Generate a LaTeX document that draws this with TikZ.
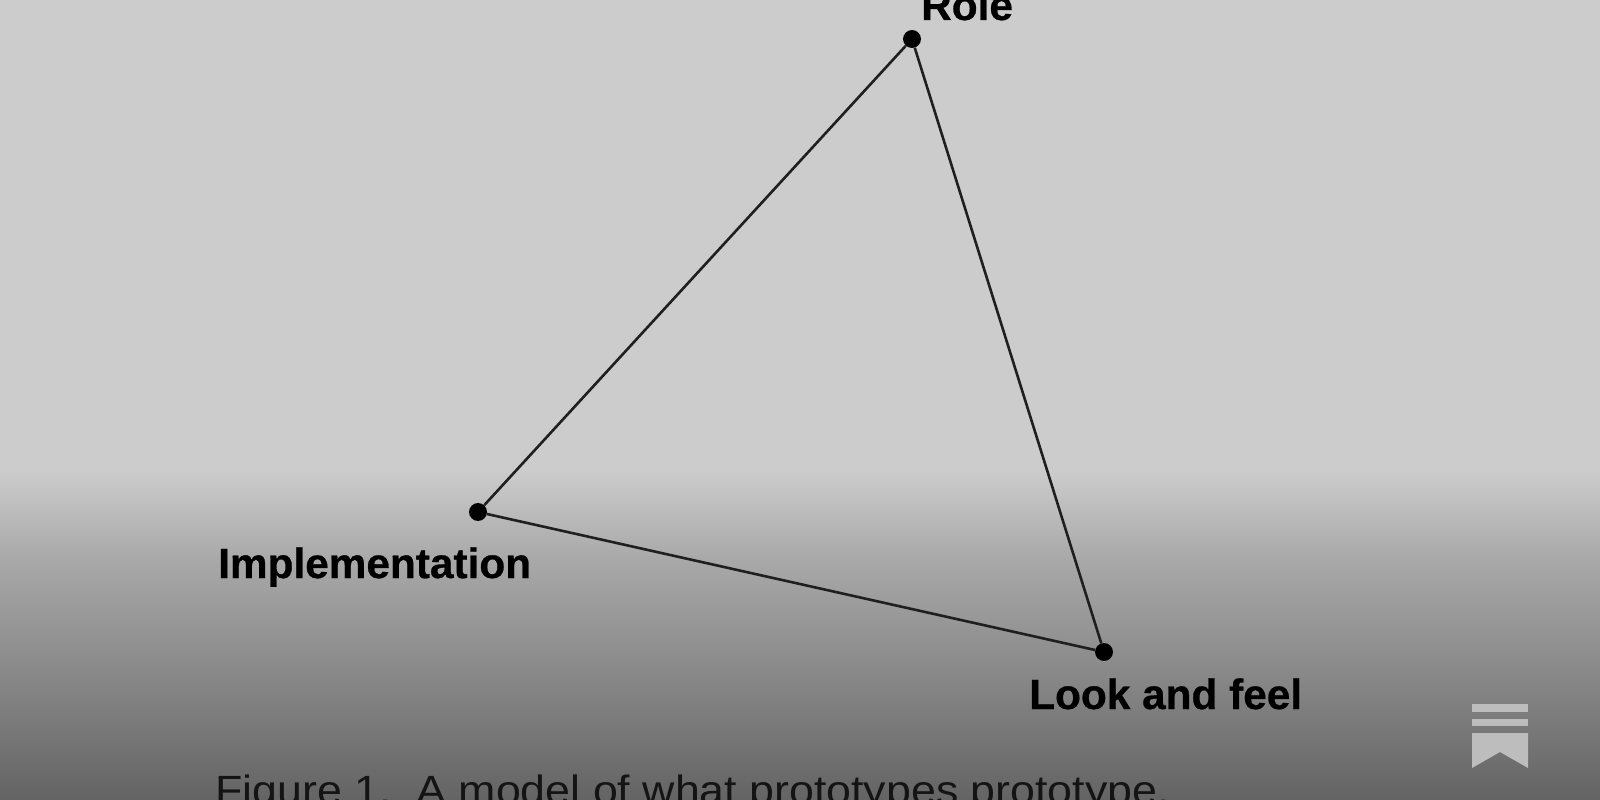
\documentclass[tikz,border=0pt]{standalone}
\usepackage{fontspec}
\setmainfont{Liberation Sans}
\newfontfamily\headfont[FakeBold=0.6]{Liberation Sans Bold}
\newfontfamily\capfont[FakeStretch=1.095]{Liberation Sans}
\pgfdeclareverticalshading{bgshade}{100bp}{
  rgb(0bp)=(0.39,0.39,0.39);
  rgb(25bp)=(0.39,0.39,0.39);
  rgb(33.75bp)=(0.55,0.55,0.55);
  rgb(40bp)=(0.66,0.66,0.66);
  rgb(45.6bp)=(0.80,0.80,0.80);
  rgb(100bp)=(0.80,0.80,0.80)}
\tikzset{
  vertex/.style={circle,fill=black,inner sep=0pt,minimum size=18pt},
  edge/.style={draw=black!88,line width=2.6pt},
  headlabel/.style={anchor=base west,inner sep=0pt,text=black,font=\headfont\fontsize{42.5}{50}\selectfont},
  captionlabel/.style={anchor=base west,inner sep=0pt,text=black!92,font=\capfont\fontsize{41}{50}\selectfont},
  mark shape/.style={fill=black!26,draw=none}
}
\begin{document}
\begin{tikzpicture}[x=1bp,y=-1bp]
\useasboundingbox (0,0) rectangle (1600,800);
\shade[shading=bgshade] (0,0) rectangle (1600,800);
\node[vertex] (role) at (912,39) {};
\node[vertex] (impl) at (478,512) {};
\node[vertex] (look) at (1104,652) {};
\draw[edge] (role) -- (impl);
\draw[edge] (impl) -- (look);
\draw[edge] (look) -- (role);
\node[headlabel] (rolelabel) at (921,20) {Role};
\node[headlabel] (impllabel) at (218,578) {Implementation};
\node[headlabel] (looklabel) at (1029,709) {Look and feel};
\node[captionlabel] (caption) at (215,804) {Figure 1.\ \ A model of what prototypes prototype.};
\fill[mark shape] (1472,704) rectangle (1528,711.5);
\fill[mark shape] (1472,718.5) rectangle (1528,726);
\fill[mark shape] (1472,733) -- (1528,733) -- (1528,768) -- (1500,752) -- (1472,768) -- cycle;
\end{tikzpicture}
\end{document}
